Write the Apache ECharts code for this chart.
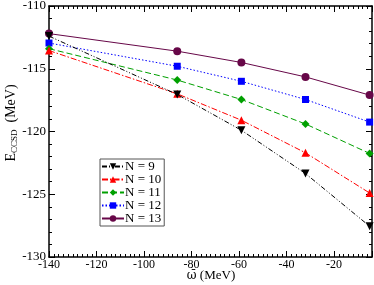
<!DOCTYPE html>
<html><head><meta charset="utf-8">
<script src="https://cdn.jsdelivr.net/npm/echarts@6/dist/echarts.min.js"></script>
<style>html,body{margin:0;padding:0;background:#fff}#c{width:374px;height:285px}</style>
</head><body><div id="c"></div>
<script>
var omega = [-140, -86, -59, -32, -5];
var seriesNames = ['N = 9', 'N = 10', 'N = 11', 'N = 12', 'N = 13'];
var n9  = [-112.4, -117.05, -119.9, -123.35, -127.55];
var n10 = [-113.55, -117.0, -119.1, -121.7, -124.9];
var n11 = [-113.4, -115.9, -117.45, -119.4, -121.75];
var n12 = [-112.95, -114.8, -116.0, -117.45, -119.25];
var n13 = [-112.2, -113.6, -114.5, -115.65, -117.1];
var xTicks = [-140, -120, -100, -80, -60, -40, -20];
var yTicks = [-130, -125, -120, -115, -110];
var xTitle = '{w|ω\u0304}{t| (MeV)}';
var yTitle = '{e|E}{s|CCSD}{e|  (MeV)}';

var values = [n9, n10, n11, n12, n13];
var colors = ['#000000', '#ff0000', '#00a000', '#0000ff', '#670748'];
var symbols = ['path://M0,0 L10,0 L5,9 Z', 'triangle', 'diamond', 'rect', 'circle'];
var sizes = [8, 8, 8, 7, 8];
var dashes = [[5,2,1,2,1,2], [6,2,1.5,2], [6,3], [1.5,2], 'solid'];

var font = 'Liberation Serif';
function pairs(v){ return omega.map(function(x,i){ return [x, v[i]]; }); }

var series = values.map(function(v, i){
  return {
    name: seriesNames[i], type: 'line', data: pairs(v),
    symbol: symbols[i], symbolSize: sizes[i],
    itemStyle: {color: colors[i]},
    lineStyle: {color: colors[i], width: 1, type: dashes[i]},
    animation: false, z: 10 - i
  };
});

var axisLine = {lineStyle: {color: '#000', width: 1.5}};
var axisTick = {inside: true, length: 6, lineStyle: {color: '#000', width: 1}};
function minor(n){ return {show: true, splitNumber: n, length: 3, lineStyle: {color: '#000', width: 1}}; }

var chart = echarts.init(document.getElementById('c'));
chart.setOption({
  backgroundColor: '#fff',
  animation: false,
  grid: {left: 49, right: 2, top: 6, bottom: 28, containLabel: false, outerBoundsMode: 'none'},
  legend: {
    data: seriesNames, orient: 'vertical', left: 100, top: 159,
    backgroundColor: '#fff', borderColor: '#555', borderWidth: 1,
    padding: [1, 3, 1, 1], itemGap: 0, itemWidth: 22, itemHeight: 8,
    textStyle: {fontFamily: font, fontSize: 13, lineHeight: 10.6, color: '#000', padding: [0,0,0,-4]}
  },
  graphic: [
    {type: 'text', x: 211, y: 276, z: 100,
      style: {text: xTitle, align: 'center', verticalAlign: 'middle', fill: '#000',
        font: '13px "Liberation Serif"',
        rich: {w: {fontFamily: 'DejaVu Serif', fontSize: 12, fill: '#000'},
               t: {fontFamily: font, fontSize: 13, fill: '#000'}}}},
    {type: 'text', x: 11, y: 123, rotation: Math.PI / 2, z: 100,
      style: {text: yTitle, align: 'center', verticalAlign: 'middle', fill: '#000',
        font: '14px "Liberation Serif"',
        rich: {e: {fontFamily: font, fontSize: 14, fill: '#000'},
               s: {fontFamily: font, fontSize: 9, fill: '#000', padding: [8, 0, 0, 0]}}}}
  ],
  xAxis: [
    {type: 'value', min: -140, max: -4, interval: 20, position: 'bottom',
      axisLine: axisLine, axisTick: axisTick, minorTick: minor(10), splitLine: {show: false},
      axisLabel: {fontFamily: font, fontSize: 12, color: '#000', margin: 2,
        formatter: function(v){ return xTicks.indexOf(v) >= 0 ? String(v) : ''; }}
    },
    {type: 'value', min: -140, max: -4, interval: 20, position: 'top',
      axisLine: axisLine, axisTick: axisTick, minorTick: minor(10), splitLine: {show: false},
      axisLabel: {show: false}
    }
  ],
  yAxis: [
    {type: 'value', min: -130, max: -110, interval: 5, position: 'left',
      axisLine: axisLine, axisTick: axisTick, minorTick: minor(5), splitLine: {show: false},
      axisLabel: {fontFamily: font, fontSize: 13, color: '#000', margin: 3,
        formatter: function(v){ return yTicks.indexOf(v) >= 0 ? String(v) : ''; }}
    },
    {type: 'value', min: -130, max: -110, interval: 5, position: 'right',
      axisLine: axisLine, axisTick: axisTick, minorTick: minor(5), splitLine: {show: false},
      axisLabel: {show: false}
    }
  ],
  series: series
});
</script></body></html>
